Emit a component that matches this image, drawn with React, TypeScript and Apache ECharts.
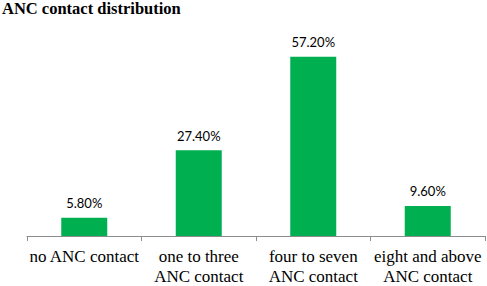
import React, { useEffect, useRef } from "react";
import * as echarts from "echarts";

const categories = ["no ANC contact", "one to three\nANC contact", "four to seven\nANC contact", "eight and above\nANC contact"];
const values = [5.8, 27.4, 57.2, 9.6];
const titleText = "ANC contact distribution";

export default function App() {
  const ref = useRef<HTMLDivElement>(null);
  useEffect(() => {
    const chart = echarts.init(ref.current!, null, { renderer: "svg" });
    chart.setOption({
      animation: false,
      title: {
        text: titleText,
        left: 2,
        top: 0,
        padding: 0,
        textStyle: { fontFamily: "'Liberation Serif', 'Times New Roman', serif", fontWeight: "bold", fontSize: 16.5, color: "#000" },
      },
      grid: { left: 27, right: 2, top: 48, bottom: 46 },
      xAxis: {
        type: "category",
        data: categories,
        axisLine: { lineStyle: { color: "#8c8c8c", width: 1 } },
        axisTick: { show: true, length: 5, lineStyle: { color: "#8c8c8c" } },
        axisLabel: {
          fontFamily: "'Liberation Serif', 'Times New Roman', serif",
          fontSize: 17,
          color: "#000",
          lineHeight: 20,
          margin: 10,
          interval: 0,
        },
      },
      yAxis: { type: "value", min: 0, max: 60, show: false, splitLine: { show: false } },
      series: [
        {
          type: "bar",
          data: values,
          barWidth: 46,
          itemStyle: { color: "#00b050" },
          label: {
            show: true,
            position: "top",
            distance: 8,
            fontFamily: "Lato",
            fontSize: 13,
            color: "#000",
            formatter: (p: any) => p.value.toFixed(2) + "%",
          },
        },
      ],
    });
    return () => chart.dispose();
  }, []);
  return <div ref={ref} style={{ width: 487, height: 286, position: "absolute", left: 0, top: 0 }} />;
}
